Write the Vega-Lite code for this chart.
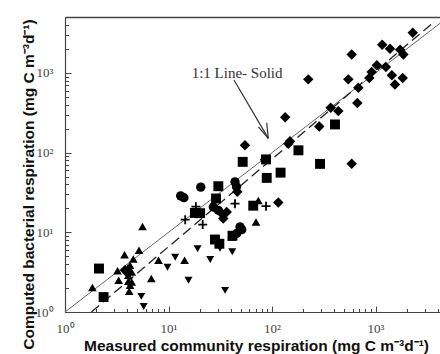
{
  "$schema": "https://vega.github.io/schema/vega-lite/v6.json",
  "width": 375,
  "height": 295,
  "autosize": "none",
  "padding": {"left": 65, "top": 17, "right": 0, "bottom": 42},
  "background": "white",
  "config": {"view": {"stroke": null}, "axis": {"grid": false}},
  "datasets": {
    "pts": [
      {"x": 2290, "y": 3200, "s": "diamond"}, {"x": 1160, "y": 2260, "s": "diamond"}, {"x": 1380, "y": 2010, "s": "diamond"},
      {"x": 1730, "y": 1960, "s": "diamond"}, {"x": 1860, "y": 1710, "s": "diamond"}, {"x": 589, "y": 1710, "s": "diamond"},
      {"x": 1030, "y": 1250, "s": "diamond"}, {"x": 1260, "y": 1190, "s": "diamond"}, {"x": 919, "y": 1030, "s": "diamond"},
      {"x": 871, "y": 863, "s": "diamond"}, {"x": 1440, "y": 933, "s": "diamond"}, {"x": 1830, "y": 863, "s": "diamond"},
      {"x": 1540, "y": 719, "s": "diamond"}, {"x": 546, "y": 831, "s": "diamond"}, {"x": 224, "y": 831, "s": "diamond"},
      {"x": 682, "y": 652, "s": "diamond"}, {"x": 667, "y": 419, "s": "diamond"}, {"x": 369, "y": 365, "s": "diamond"},
      {"x": 437, "y": 332, "s": "diamond"}, {"x": 134, "y": 279, "s": "diamond"}, {"x": 286, "y": 213, "s": "diamond"},
      {"x": 149, "y": 139, "s": "diamond"}, {"x": 144, "y": 129, "s": "diamond"}, {"x": 85.6, "y": 81.2, "s": "diamond"},
      {"x": 589, "y": 72.3, "s": "diamond"}, {"x": 54.8, "y": 124, "s": "diamond"}, {"x": 115, "y": 23.7, "s": "diamond"},
      {"x": 46.2, "y": 32.2, "s": "diamond"}, {"x": 32.7, "y": 17.2, "s": "diamond"}, {"x": 36.5, "y": 18.0, "s": "diamond"},
      {"x": 33.8, "y": 14.9, "s": "diamond"}, {"x": 4.06, "y": 3.06, "s": "diamond"}, {"x": 3.8, "y": 3.34, "s": "diamond"},
      {"x": 406, "y": 226, "s": "square"}, {"x": 180, "y": 107, "s": "square"}, {"x": 291, "y": 72.3, "s": "square"},
      {"x": 52.1, "y": 76.6, "s": "square"}, {"x": 87.5, "y": 82.2, "s": "square"}, {"x": 88.9, "y": 48.2, "s": "square"},
      {"x": 121, "y": 56.1, "s": "square"}, {"x": 30.3, "y": 37.9, "s": "square"}, {"x": 28.8, "y": 26.6, "s": "square"},
      {"x": 65.9, "y": 21.6, "s": "square"}, {"x": 18.0, "y": 17.5, "s": "square"}, {"x": 20.2, "y": 17.4, "s": "square"},
      {"x": 28.1, "y": 8.12, "s": "square"}, {"x": 31.0, "y": 7.19, "s": "square"}, {"x": 41.5, "y": 9.06, "s": "square"},
      {"x": 2.13, "y": 3.51, "s": "square"}, {"x": 2.36, "y": 1.54, "s": "square"},
      {"x": 20.5, "y": 36.9, "s": "circle"}, {"x": 13.1, "y": 28.7, "s": "circle"}, {"x": 14.1, "y": 27.2, "s": "circle"},
      {"x": 43.9, "y": 43.0, "s": "circle"}, {"x": 45.4, "y": 37.4, "s": "circle"}, {"x": 27.1, "y": 20.8, "s": "circle"},
      {"x": 30.3, "y": 18.9, "s": "circle"}, {"x": 49.1, "y": 11.7, "s": "circle"}, {"x": 51.0, "y": 10.8, "s": "circle"},
      {"x": 45.6, "y": 9.66, "s": "circle"},
      {"x": 73.8, "y": 25.1, "s": "triangle-up"}, {"x": 70.0, "y": 13.5, "s": "triangle-up"}, {"x": 40.8, "y": 8.75, "s": "triangle-up"},
      {"x": 5.61, "y": 11.8, "s": "triangle-up"}, {"x": 3.76, "y": 5.23, "s": "triangle-up"}, {"x": 5.19, "y": 5.96, "s": "triangle-up"},
      {"x": 4.57, "y": 4.63, "s": "triangle-up"}, {"x": 8.01, "y": 4.46, "s": "triangle-up"}, {"x": 14.3, "y": 4.46, "s": "triangle-up"},
      {"x": 6.82, "y": 2.63, "s": "triangle-up"}, {"x": 3.22, "y": 3.29, "s": "triangle-up"}, {"x": 4.04, "y": 3.57, "s": "triangle-up"},
      {"x": 4.25, "y": 3.86, "s": "triangle-up"}, {"x": 4.09, "y": 2.89, "s": "triangle-up"}, {"x": 4.41, "y": 3.18, "s": "triangle-up"},
      {"x": 3.30, "y": 2.50, "s": "triangle-up"}, {"x": 4.09, "y": 2.43, "s": "triangle-up"}, {"x": 4.41, "y": 2.38, "s": "triangle-up"},
      {"x": 1.84, "y": 2.03, "s": "triangle-up"}, {"x": 4.17, "y": 1.82, "s": "triangle-up"}, {"x": 4.25, "y": 2.17, "s": "triangle-up"},
      {"x": 11.6, "y": 4.87, "s": "triangle-down"}, {"x": 9.78, "y": 3.64, "s": "triangle-down"}, {"x": 15.6, "y": 2.50, "s": "triangle-down"},
      {"x": 5.46, "y": 1.57, "s": "triangle-down"}, {"x": 5.76, "y": 1.17, "s": "triangle-down"}, {"x": 19.1, "y": 6.22, "s": "triangle-down"},
      {"x": 25.3, "y": 4.55, "s": "triangle-down"}, {"x": 41.3, "y": 5.71, "s": "triangle-down"}, {"x": 35.2, "y": 1.87, "s": "triangle-down"},
      {"x": 31.4, "y": 6.31, "s": "triangle-down"}
    ],
    "plus": [
      {"x": 43.9, "y": 22.9}, {"x": 87.5, "y": 21.3}, {"x": 18.4, "y": 21.0}, {"x": 14.5, "y": 14.4}, {"x": 21.4, "y": 12.5}
    ],
    "solid": [{"x": 1, "y": 1}, {"x": 4200, "y": 4200}],
    "dashed": [{"x": 1.8, "y": 1}, {"x": 3600, "y": 4276}],
    "note": [{"x": 46, "y": 1000, "label": "1:1 Line- Solid"}],
    "arrow": [
      {"x": 42.9, "y": 815, "x2": 92.1, "y2": 151},
      {"x": 73.8, "y": 211, "x2": 92.1, "y2": 151},
      {"x": 88.9, "y": 237, "x2": 92.1, "y2": 151}
    ]
  },
  "resolve": {"axis": {"x": "independent", "y": "independent"}},
  "layer": [
    {
      "data": {"name": "solid"},
      "mark": {"type": "line", "color": "#666", "strokeWidth": 1, "clip": true},
      "encoding": {
        "x": {"field": "x", "type": "quantitative",
          "scale": {"type": "log", "domain": [1, 4198], "nice": false},
          "axis": {"orient": "bottom", "values": [1, 10, 100, 1000],
            "labelExpr": "datum.value < 5 ? '10⁰' : datum.value < 50 ? '10¹' : datum.value < 500 ? '10²' : '10³'",
            "tickSize": -6, "tickColor": "#444", "tickWidth": 1, "domainColor": "#444", "domainWidth": 1.2,
            "labelFont": "Liberation Serif", "labelFontSize": 13, "labelColor": "#444", "labelPadding": 16, "labelFlush": false,
            "title": "Measured community respiration (mg C m⁻³d⁻¹)", "titleFont": "Liberation Sans", "titleFontSize": 15.5,
            "titleFontWeight": "bold", "titleColor": "#111", "titleBaseline": "alphabetic", "titleX": 191, "titleY": 38}},
        "y": {"field": "y", "type": "quantitative",
          "scale": {"type": "log", "domain": [1, 5040], "nice": false},
          "axis": {"orient": "left", "values": [1, 10, 100, 1000],
            "labelExpr": "datum.value < 5 ? '10⁰' : datum.value < 50 ? '10¹' : datum.value < 500 ? '10²' : '10³'",
            "tickSize": -6, "tickColor": "#444", "tickWidth": 1, "domainColor": "#444", "domainWidth": 1.2,
            "labelFont": "Liberation Serif", "labelFontSize": 13, "labelColor": "#444", "labelPadding": 18, "labelFlush": false,
            "title": "Computed bacterial respiration (mg C m⁻³d⁻¹)", "titleFont": "Liberation Sans", "titleFontSize": 15.5,
            "titleFontWeight": "bold", "titleColor": "#111", "titleAngle": -90, "titleBaseline": "alphabetic",
            "titleX": -32, "titleY": 167}}
      }
    },
    {
      "data": {"name": "dashed"},
      "mark": {"type": "line", "color": "#222", "strokeWidth": 1.3, "strokeDash": [10, 5], "clip": true},
      "encoding": {
        "x": {"field": "x", "type": "quantitative",
          "scale": {"type": "log", "domain": [1, 4198], "nice": false},
          "axis": {"orient": "bottom", "values": [2, 3, 4, 5, 6, 7, 8, 9, 20, 30, 40, 50, 60, 70, 80, 90, 200, 300, 400, 500, 600, 700, 800, 900, 2000, 3000, 4000],
            "labels": false, "domain": false, "tickSize": -3.5, "tickColor": "#444", "tickWidth": 1, "title": null}},
        "y": {"field": "y", "type": "quantitative",
          "scale": {"type": "log", "domain": [1, 5040], "nice": false},
          "axis": {"orient": "left", "values": [2, 3, 4, 5, 6, 7, 8, 9, 20, 30, 40, 50, 60, 70, 80, 90, 200, 300, 400, 500, 600, 700, 800, 900, 2000, 3000, 4000, 5000],
            "labels": false, "domain": false, "tickSize": -3.5, "tickColor": "#444", "tickWidth": 1, "title": null}}
      }
    },
    {
      "data": {"name": "pts"},
      "mark": {"type": "point", "filled": true, "color": "#000", "opacity": 1},
      "encoding": {
        "x": {"field": "x", "type": "quantitative",
          "scale": {"type": "log", "domain": [1, 4198], "nice": false},
          "axis": {"orient": "top", "labels": false, "ticks": false, "domainColor": "#444", "domainWidth": 1.5, "title": null}},
        "y": {"field": "y", "type": "quantitative",
          "scale": {"type": "log", "domain": [1, 5040], "nice": false}, "axis": null},
        "shape": {"field": "s", "type": "nominal", "legend": null,
          "scale": {"domain": ["diamond", "square", "circle", "triangle-up", "triangle-down"],
                    "range": ["diamond", "square", "circle", "triangle-up", "triangle-down"]}},
        "size": {"field": "s", "type": "ordinal", "legend": null,
          "scale": {"domain": ["diamond", "square", "circle", "triangle-up", "triangle-down"],
                    "range": [110, 64, 72, 100, 90]}}
      }
    },
    {
      "data": {"name": "plus"},
      "mark": {"type": "point", "shape": "M-1,0L1,0M0,-1L0,1", "filled": false, "color": "#000", "strokeWidth": 1.8, "size": 81, "opacity": 1},
      "encoding": {
        "x": {"field": "x", "type": "quantitative", "scale": {"type": "log", "domain": [1, 4198], "nice": false}, "axis": null},
        "y": {"field": "y", "type": "quantitative", "scale": {"type": "log", "domain": [1, 5040], "nice": false}, "axis": null}
      }
    },
    {
      "data": {"name": "arrow"},
      "mark": {"type": "rule", "color": "#333", "strokeWidth": 1.2},
      "encoding": {
        "x": {"field": "x", "type": "quantitative", "scale": {"type": "log", "domain": [1, 4198], "nice": false}, "axis": null},
        "y": {"field": "y", "type": "quantitative", "scale": {"type": "log", "domain": [1, 5040], "nice": false}, "axis": null},
        "x2": {"field": "x2"},
        "y2": {"field": "y2"}
      }
    },
    {
      "data": {"name": "note"},
      "mark": {"type": "text", "font": "Liberation Serif", "fontSize": 15, "color": "#333", "align": "center", "baseline": "middle"},
      "encoding": {
        "x": {"field": "x", "type": "quantitative", "scale": {"type": "log", "domain": [1, 4198], "nice": false}, "axis": null},
        "y": {"field": "y", "type": "quantitative", "scale": {"type": "log", "domain": [1, 5040], "nice": false}, "axis": null},
        "text": {"field": "label"}
      }
    }
  ]
}
